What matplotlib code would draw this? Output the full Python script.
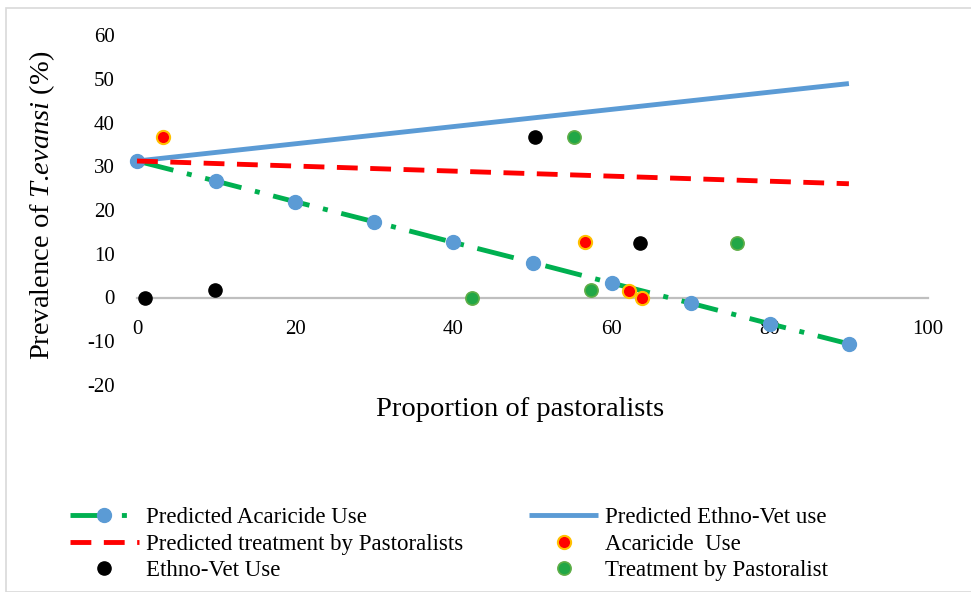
import matplotlib
matplotlib.use("Agg")
import matplotlib.pyplot as plt
from matplotlib.patches import Rectangle

plt.rcParams['font.family'] = ['Liberation Serif', 'DejaVu Serif']
plt.rcParams['lines.scale_dashes'] = False
plt.rcParams['axes.unicode_minus'] = False
plt.rcParams['mathtext.fontset'] = 'custom'
plt.rcParams['mathtext.rm'] = 'Liberation Serif'
plt.rcParams['mathtext.it'] = 'Liberation Serif:italic'

# Predicted lines
pred_x = [0, 10, 20, 30, 40, 50, 60, 70, 80, 90]
pred_acaricide = [31.2, 26.6, 21.9, 17.3, 12.6, 8.0, 3.3, -1.3, -6.0, -10.6]
ethno_line_x = [0, 90]
pred_ethno = [31.2, 48.9]
treat_line_x = [0, 90]
pred_treat = [31.2, 26.0]

# Observed points
acar_x = [3.3, 56.6, 62.2, 63.8]
acar_y = [36.8, 12.6, 1.6, 0.0]
ethno_x = [1.0, 9.9, 50.3, 63.6]
ethno_y = [0.0, 1.8, 36.8, 12.5]
treat_x = [42.4, 55.3, 57.4, 75.9]
treat_y = [0.0, 36.8, 1.8, 12.5]

xticks = [0, 20, 40, 60, 80, 100]
yticks = [-20, -10, 0, 10, 20, 30, 40, 50, 60]

GREEN = '#00B050'
BLUE = '#5B9BD5'
RED = '#FF0000'

fig = plt.figure(figsize=(9.71, 5.92), dpi=100)
fig.patches.append(Rectangle((6/971, 0), 1, 1 - 8/592, transform=fig.transFigure,
                             fill=False, edgecolor='#D9D9D9', linewidth=1.2))
ax = fig.add_axes([137/971, 1 - 385/592, (928 - 137)/971, (385 - 35)/592])

ax.plot(pred_x, pred_acaricide, color=GREEN, lw=3.5, dashes=(27, 10, 3.6, 10),
        marker='o', ms=10, mfc=BLUE, mec=BLUE, clip_on=False, zorder=3,
        label='Predicted Acaricide Use')
ax.plot(treat_line_x, pred_treat, color=RED, lw=3.5, dashes=(15, 9),
        clip_on=False, zorder=3, label='Predicted treatment by Pastoralists')
ax.plot(ethno_line_x, pred_ethno, color=BLUE, lw=3.5, solid_capstyle='butt',
        clip_on=False, zorder=2, label='Predicted Ethno-Vet use')
ax.plot(acar_x, acar_y, ls='none', marker='o', ms=9.5, mfc=RED, mec='#FFC000',
        mew=1.5, clip_on=False, zorder=4, label='Acaricide  Use')
ax.plot(ethno_x, ethno_y, ls='none', marker='o', ms=9.5, mfc='black', mec='black',
        clip_on=False, zorder=4, label='Ethno-Vet Use')
ax.plot(treat_x, treat_y, ls='none', marker='o', ms=9.5, mfc='#21A746', mec='#5FAE48',
        mew=1.2, clip_on=False, zorder=4, label='Treatment by Pastoralist')

ax.set_xlim(0, 100)
ax.set_ylim(-20, 60)
ax.set_xticks(xticks)
ax.set_yticks(yticks)
for s in ['top', 'right', 'left']:
    ax.spines[s].set_visible(False)
ax.spines['bottom'].set_position(('data', 0))
ax.spines['bottom'].set_color('#BFBFBF')
ax.spines['bottom'].set_linewidth(1.6)
ax.spines['bottom'].set_zorder(1)
ax.tick_params(axis='x', length=0, pad=16, labelsize=15)
ax.tick_params(axis='y', length=0, pad=16, labelsize=15)

ax.set_xlabel('Proportion of pastoralists', fontsize=20.5)
ax.xaxis.set_label_coords((520 - 137) / (928 - 137), (385 - 410) / 350)
ax.xaxis.label.set_verticalalignment('center')
fig.text(42/971, 1 - 205/592, r'Prevalence of $\mathit{T}$.$\mathit{evansi}$ (%)', rotation=90,
         fontsize=20.5, ha='center', va='center')

h, l = ax.get_legend_handles_labels()
order = [0, 1, 4, 2, 3, 5]
fig.legend([h[i] for i in order], [l[i] for i in order], ncol=2,
           loc='center left', bbox_to_anchor=(70/971, 1 - 544/592),
           frameon=False, fontsize=16.5, handlelength=3.0, handletextpad=0.3,
           columnspacing=2.9, labelspacing=0.22, borderpad=0, borderaxespad=0)

fig.savefig('out.png', dpi=100)
